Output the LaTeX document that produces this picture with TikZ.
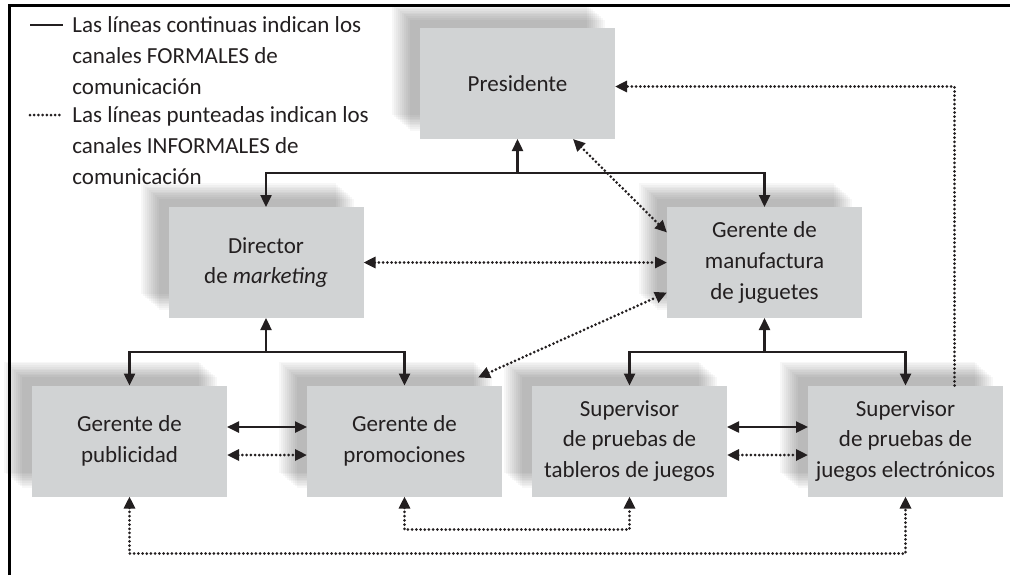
\documentclass[tikz,border=0pt]{standalone}
\usepackage{fontspec}
\setmainfont{Carlito}
\usepackage{tikz}
\usetikzlibrary{arrows.meta}
\usetikzlibrary{calc}
\usetikzlibrary{positioning}
\usetikzlibrary{shadows}
\usepackage{xcolor}
\definecolor{boxgray}{HTML}{D1D3D4}
\definecolor{inkgray}{HTML}{231F20}
\tikzset{auto, every text node part/.style={align=center, font={\fontsize{11.5}{15.3}\selectfont}}}
\tikzset{soft/.style={general shadow={fill=black, opacity=.03, shadow xshift=-#1pt, shadow yshift=0.85*#1pt}}}
\tikzstyle{block} = [fill=boxgray, text=inkgray, minimum width=97.5pt, minimum height=55.5pt, inner sep=0pt, outer sep=0pt,
  soft/.list={5,6,7,8,9,10,11,12,13,14}]
\tikzstyle{legtext} = [text=inkgray, inner sep=0pt, every text node part/.append style={align=left}]
\tikzstyle{formal} = [draw=inkgray, line width=1.2pt, >={Triangle[length=6pt, width=5.5pt]}]
\tikzstyle{informal} = [formal, line width=1.5pt, line cap=round, dash pattern=on 0pt off 2.1pt]

\begin{document}
\begin{tikzpicture}[x=0.5pt, y=-0.5pt]
  \useasboundingbox (0,0) rectangle (1010,575);
  \draw[line width=1.5pt] (9,575) -- (9,5) -- (1010,5);

  % legend (first line baselines)
  \coordinate (legA) at (72,33);
  \coordinate (legB) at (72,123);
  \node[legtext, anchor=base west] (legcont) at ($(legA)+(0,61)$) {Las líneas continuas indican los\\canales FORMALES de\\comunicación};
  \node[legtext, anchor=base west] (legdot) at ($(legB)+(0,61)$) {Las líneas punteadas indican los\\canales INFORMALES de\\comunicación};
  \draw[formal] ($(legA)+(-42,-8)$) -- ++(33,0);
  \draw[informal] ($(legB)+(-42,-8)$) -- ++(33,0);

  % boxes
  \node[block] (pres) at (517.5,83.5) {Presidente};
  \node[block] (dir) at (266,262.5) {Director\\de \textit{marketing}};
  \node[block] (manuf) at (764.5,262.5) {Gerente de\\manufactura\\de juguetes};
  \node[block] (pub) at (129.5,441) {Gerente de\\publicidad};
  \node[block, right=40pt of pub] (promo) {Gerente de\\promociones};
  \node[block, right=15pt of promo] (tab) {Supervisor\\de pruebas de\\tableros de juegos};
  \node[block, right=40.5pt of tab] (elec) {Supervisor\\de pruebas de\\juegos electrónicos};

  % formal channels
  \path (pres.south) ++(0,34) coordinate (topbar);
  \path (dir.south) ++(0,34) coordinate (mktbar);
  \path (manuf.south) ++(0,34) coordinate (mfgbar);
  \draw[formal, ->] (topbar) -- (pres.south);
  \draw[formal, ->] (topbar) -| (dir.north);
  \draw[formal, ->] (topbar) -| (manuf.north);
  \draw[formal, ->] (mktbar) -- (dir.south);
  \draw[formal, ->] (mktbar) -| (pub.north);
  \draw[formal, ->] (mktbar) -| (promo.north);
  \draw[formal, ->] (mfgbar) -- (manuf.south);
  \draw[formal, ->] (mfgbar) -| (tab.north);
  \draw[formal, ->] (mfgbar) -| (elec.north);
  \draw[formal, <->] ($(pub.east)+(0,-14)$) -- ($(promo.west)+(0,-14)$);
  \draw[formal, <->] ($(tab.east)+(0,-14)$) -- ($(elec.west)+(0,-14)$);

  % informal channels
  \draw[informal, <->] ($(pub.east)+(0,14)$) -- ($(promo.west)+(0,14)$);
  \draw[informal, <->] ($(tab.east)+(0,14)$) -- ($(elec.west)+(0,14)$);
  \draw[informal, <->] (dir.east) -- (manuf.west);
  \draw[informal, <->] ($(pres.south east)+(-42,0)$) -- ($(manuf.west)+(0,-30)$);
  \draw[informal, <->] ($(promo.north east)+(-24,-8)$) -- ($(manuf.west)+(0,30)$);
  \draw[informal, ->] ($(elec.north)+(49,0)$) |- ($(pres.east)+(0,3)$);
  \draw[informal, <->] (promo.south) -- ++(0,33) -| (tab.south);
  \draw[informal, <->] (pub.south) -- ++(0,57) -| (elec.south);
\end{tikzpicture}
\end{document}
